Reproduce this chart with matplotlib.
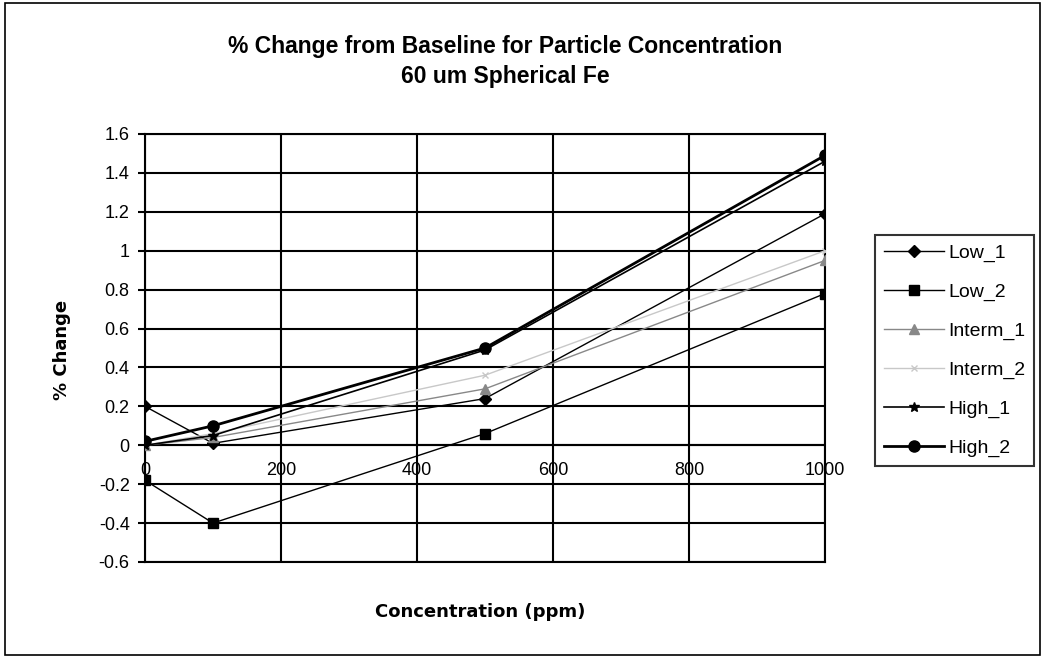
import matplotlib
matplotlib.use("Agg")
import matplotlib.pyplot as plt
from matplotlib.patches import Rectangle

plt.rcParams['font.family'] = ['Liberation Sans', 'DejaVu Sans']

concentration = [0, 100, 500, 1000]
low_1 = [0.20, 0.01, 0.24, 1.19]
low_2 = [-0.18, -0.40, 0.06, 0.78]
interm_1 = [0.00, 0.04, 0.29, 0.95]
interm_2 = [0.00, 0.06, 0.36, 1.00]
high_1 = [0.00, 0.05, 0.49, 1.46]
high_2 = [0.02, 0.10, 0.50, 1.49]

x_ticks = [0, 200, 400, 600, 800, 1000]
y_ticks = [-0.6, -0.4, -0.2, 0, 0.2, 0.4, 0.6, 0.8, 1.0, 1.2, 1.4, 1.6]
y_labels = ['-0.6', '-0.4', '-0.2', '0', '0.2', '0.4', '0.6', '0.8', '1', '1.2', '1.4', '1.6']

fig = plt.figure(figsize=(10.5, 6.61), dpi=100)
ax = fig.add_axes([145/1050, 1-562/661, (825-145)/1050, (562-134)/661])

series = [
    ('Low_1', low_1, dict(color='black', marker='D', markersize=6, lw=1.0)),
    ('Low_2', low_2, dict(color='black', marker='s', markersize=7, lw=1.0)),
    ('Interm_1', interm_1, dict(color='#888888', marker='^', markersize=7, lw=1.0)),
    ('Interm_2', interm_2, dict(color='#c8c8c8', marker='x', markersize=5, lw=1.0)),
    ('High_1', high_1, dict(color='black', marker='*', markersize=7, lw=1.2)),
    ('High_2', high_2, dict(color='black', marker='o', markersize=8, lw=2.0)),
]
for name, vals, st in series:
    ax.plot(concentration, vals, label=name, zorder=3, **st)

ax.spines['bottom'].set_position(('data', 0))
ax.spines['bottom'].set_visible(False)
ax.set_xlim(0, 1000)
ax.set_ylim(-0.6, 1.6)
ax.set_xticks(x_ticks)
ax.set_xticklabels([str(v) for v in x_ticks], fontsize=13)
ax.set_yticks(y_ticks)
ax.set_yticklabels(y_labels, fontsize=13)
ax.grid(True, color='black', lw=1.5)
ax.set_axisbelow(True)
for s in ax.spines.values():
    s.set_linewidth(1.5)
ax.tick_params(axis='x', length=0, pad=12)
ax.tick_params(axis='y', length=5, width=1.5, pad=6)
ax.axhline(-0.6, color='black', lw=1.5, clip_on=False)
ax.axhline(0, color='black', lw=1.5, zorder=2)

fig.text(62/1050, 1-350/661, '% Change', fontsize=13, fontweight='bold', rotation=90,
         ha='center', va='center', family=['DejaVu Sans'])
fig.text(480/1050, 1-612/661, 'Concentration (ppm)', fontsize=13, fontweight='bold',
         ha='center', va='center', family=['DejaVu Sans'])
fig.text(505/1050, 1-46/661, '% Change from Baseline for Particle Concentration',
         fontsize=16.5, fontweight='bold', ha='center', va='center')
fig.text(505/1050, 1-77/661, '60 um Spherical Fe',
         fontsize=16.5, fontweight='bold', ha='center', va='center')

leg = ax.legend(loc='upper left', bbox_to_anchor=(875/1050, 1-235/661),
                bbox_transform=fig.transFigure, fontsize=14, frameon=True,
                fancybox=False, edgecolor='black', labelspacing=1.1,
                handlelength=3.1, handletextpad=0.2, borderpad=0.45, borderaxespad=0)
leg.get_frame().set_linewidth(1.5)

fig.patches.append(Rectangle((5/1050, 1-655/661), (1040-5)/1050, (655-3)/661,
                             transform=fig.transFigure, fill=False, edgecolor='black', lw=1.2))

fig.savefig('out.png', dpi=100)
